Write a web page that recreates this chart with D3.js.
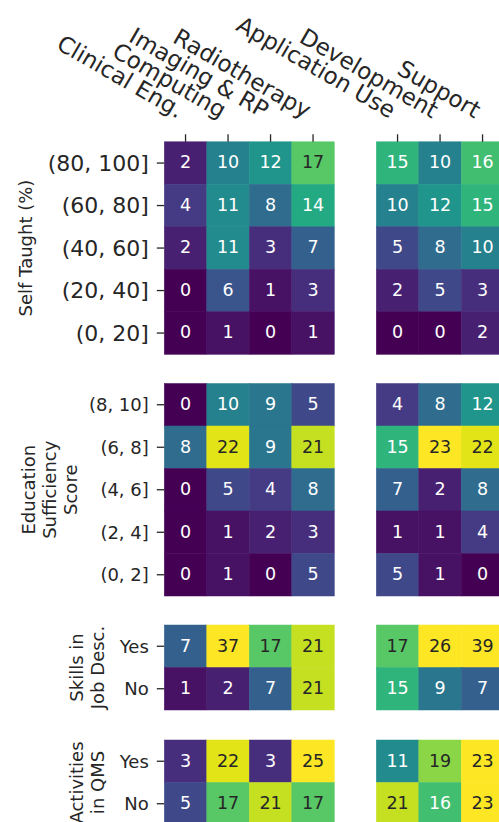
<!DOCTYPE html>
<html>
<head>
<meta charset="utf-8">
<script src="https://cdn.jsdelivr.net/npm/d3@7"></script>
<style>
  html, body { margin: 0; padding: 0; background: #fff; }
  svg { display: block; font-family: "DejaVu Sans", sans-serif; }
</style>
</head>
<body>
<svg id="chart" width="499" height="822"></svg>
<script>
// Column groups: specialty (left block) and role (right block)
const specialties = ["Clinical Eng.", "Computing", "Imaging & RP", "Radiotherapy"];
const roles = ["Application Use", "Development", "Support"];

// Row categories per panel
const selfTaughtBins = ["(80, 100]", "(60, 80]", "(40, 60]", "(20, 40]", "(0, 20]"];
const educationBins = ["(8, 10]", "(6, 8]", "(4, 6]", "(2, 4]", "(0, 2]"];
const yesNo = ["Yes", "No"];

// Counts: rows follow the bin order above, columns follow specialties / roles
const selfTaughtBySpecialty = [
  [2, 10, 12, 17],
  [4, 11, 8, 14],
  [2, 11, 3, 7],
  [0, 6, 1, 3],
  [0, 1, 0, 1]
];
const selfTaughtByRole = [
  [15, 10, 16],
  [10, 12, 15],
  [5, 8, 10],
  [2, 5, 3],
  [0, 0, 2]
];
const educationBySpecialty = [
  [0, 10, 9, 5],
  [8, 22, 9, 21],
  [0, 5, 4, 8],
  [0, 1, 2, 3],
  [0, 1, 0, 5]
];
const educationByRole = [
  [4, 8, 12],
  [15, 23, 22],
  [7, 2, 8],
  [1, 1, 4],
  [5, 1, 0]
];
const jobDescBySpecialty = [
  [7, 37, 17, 21],
  [1, 2, 7, 21]
];
const jobDescByRole = [
  [17, 26, 39],
  [15, 9, 7]
];
const qmsBySpecialty = [
  [3, 22, 3, 25],
  [5, 17, 21, 17]
];
const qmsByRole = [
  [11, 19, 23],
  [21, 16, 23]
];

const colorMin = 0, colorMax = 23;

const svg = d3.select("#chart");
const textDark = "#262626";
const cell = 42.5;

const color = d3.scaleSequential(d3.interpolateViridis).domain([colorMin, colorMax]).clamp(true);

// seaborn-style annotation colour: dark text on light cells
function lum(c) {
  const rgb = d3.rgb(c);
  const f = v => { v /= 255; return v <= 0.03928 ? v / 12.92 : Math.pow((v + 0.055) / 1.055, 2.4); };
  return 0.2126 * f(rgb.r) + 0.7152 * f(rgb.g) + 0.0722 * f(rgb.b);
}

const leftX0 = 164.3, rightX0 = 376.3;
const xLeft = d3.scaleBand().domain(specialties).range([leftX0, leftX0 + cell * specialties.length]);
const xRight = d3.scaleBand().domain(roles).range([rightX0, rightX0 + cell * roles.length]);

// titleX is the baseline of the first title line; further lines step right
const panels = [
  { rows: selfTaughtBins, left: selfTaughtBySpecialty, right: selfTaughtByRole, top: 141.8,
    tickSize: 22, title: ["Self Taught (%)"], titleX: 32 },
  { rows: educationBins, left: educationBySpecialty, right: educationByRole, top: 383.5,
    tickSize: 18, title: ["Education", "Sufficiency", "Score"], titleX: 35 },
  { rows: yesNo, left: jobDescBySpecialty, right: jobDescByRole, top: 625,
    tickSize: 18, title: ["Skills in", "Job Desc."], titleX: 83 },
  { rows: yesNo, left: qmsBySpecialty, right: qmsByRole, top: 740,
    tickSize: 18, title: ["Activities", "in QMS"], titleX: 83 }
];

function drawBlock(g, xs, cols, rows, y, data) {
  const cells = [];
  data.forEach((row, i) => row.forEach((v, j) => cells.push({ r: rows[i], c: cols[j], v })));
  const cg = g.append("g").selectAll("g").data(cells).join("g");
  cg.append("rect")
    .attr("x", d => xs(d.c))
    .attr("y", d => y(d.r))
    .attr("width", xs.bandwidth())
    .attr("height", y.bandwidth())
    .attr("fill", d => color(d.v))
    .attr("stroke", d => color(d.v))
    .attr("stroke-width", 0.5);
  cg.append("text")
    .attr("x", d => xs(d.c) + xs.bandwidth() / 2)
    .attr("y", d => y(d.r) + y.bandwidth() / 2)
    .attr("dy", "0.31em")
    .attr("text-anchor", "middle")
    .attr("font-size", 17.5)
    .attr("fill", d => lum(color(d.v)) > 0.408 ? textDark : "#ffffff")
    .text(d => d.v);
}

panels.forEach((p, pi) => {
  const y = d3.scaleBand().domain(p.rows).range([p.top, p.top + cell * p.rows.length]);
  const g = svg.append("g");
  drawBlock(g, xLeft, specialties, p.rows, y, p.left);
  drawBlock(g, xRight, roles, p.rows, y, p.right);

  // y axis on the left block
  const yAxis = d3.axisLeft(y).tickSize(7.5).tickPadding(8);
  const ya = g.append("g").attr("transform", `translate(${leftX0},0)`).call(yAxis);
  ya.select(".domain").remove();
  ya.selectAll(".tick line").attr("stroke", textDark).attr("stroke-width", 1.3);
  ya.selectAll(".tick text")
    .attr("font-size", p.tickSize)
    .attr("font-family", "DejaVu Sans, sans-serif")
    .attr("fill", textDark)
    .attr("dy", "0.36em");

  // axis title, rotated, multi-line
  const cy = p.top + cell * p.rows.length / 2;
  const lineH = 21;
  const t = g.append("text")
    .attr("transform", `translate(${p.titleX},${cy}) rotate(-90)`)
    .attr("text-anchor", "middle")
    .attr("font-size", 18)
    .attr("fill", textDark);
  p.title.forEach((line, i) => {
    t.append("tspan").attr("x", 0).attr("y", i * lineH).text(line);
  });

  // column ticks and rotated labels on top of the first panel
  if (pi === 0) {
    [[xLeft, specialties], [xRight, roles]].forEach(([xs, cols]) => {
      const xa = g.append("g").attr("transform", `translate(0,${p.top})`)
        .call(d3.axisTop(xs).tickSize(7.5).tickFormat(""));
      xa.select(".domain").remove();
      xa.selectAll(".tick line").attr("stroke", textDark).attr("stroke-width", 1.3);
      g.append("g").selectAll("text").data(cols).join("text")
        .attr("transform", d => `translate(${xs(d) + xs.bandwidth() / 2 - 8},${p.top - 23}) rotate(30)`)
        .attr("text-anchor", "end")
        .attr("font-size", 23)
        .attr("fill", textDark)
        .text(d => d);
    });
  }
});
</script>
</body>
</html>
